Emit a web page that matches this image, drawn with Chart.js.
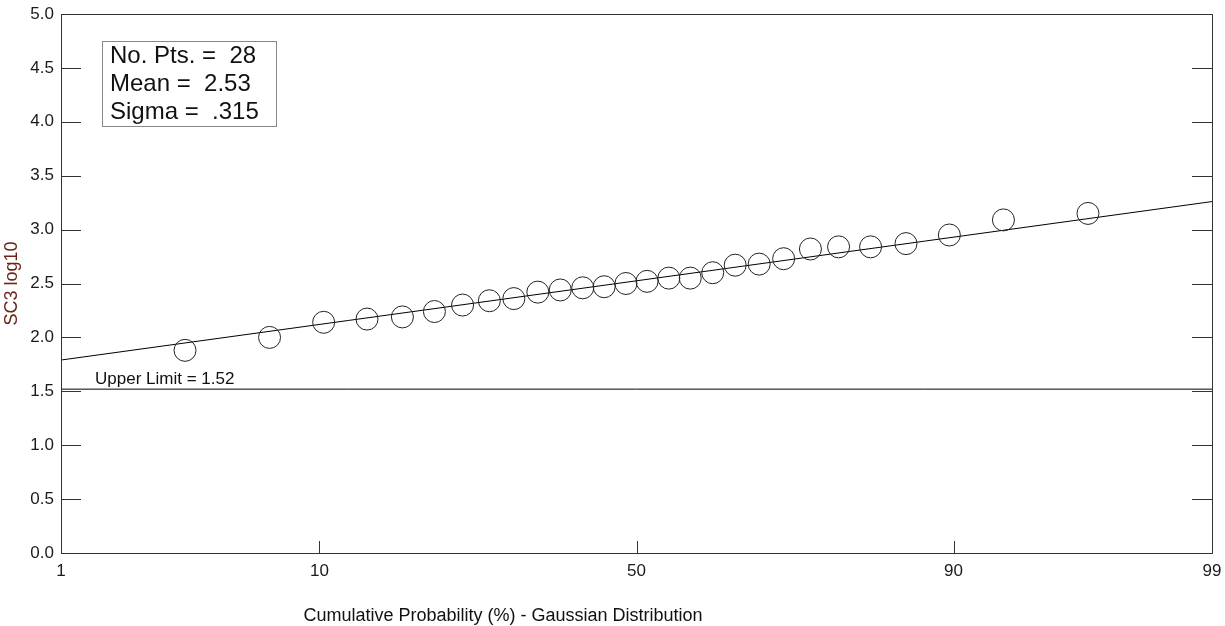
<!DOCTYPE html>
<html>
<head>
<meta charset="utf-8">
<title>SC3 log10 - Gaussian probability plot</title>
<script src="https://cdn.jsdelivr.net/npm/chart.js@4.4.1/dist/chart.umd.min.js"></script>
<style>
    html, body { margin: 0; padding: 0; background: #ffffff; }
    #wrap { width: 1225px; height: 626px; }
</style>
</head>
<body>
<div id="wrap"><canvas id="probChart" width="1225" height="626"></canvas></div>
<script>
// Probability plot data
const probPct = [3.4, 6.9, 10.3, 13.8, 17.2, 20.7, 24.1, 27.6, 31.0, 34.5, 37.9, 41.4, 44.8, 48.3,
                 51.7, 55.2, 58.6, 62.1, 65.5, 69.0, 72.4, 75.9, 79.3, 82.8, 86.2, 89.7, 93.1, 96.6];
const sc3Values = [1.88, 2.00, 2.14, 2.17, 2.19, 2.24, 2.30, 2.34, 2.36, 2.42, 2.44, 2.46, 2.47, 2.50,
                   2.52, 2.55, 2.55, 2.60, 2.67, 2.68, 2.73, 2.82, 2.84, 2.84, 2.87, 2.95, 3.09, 3.15];

// fitted line end points and the limit line
const fitPct = [1, 99];
const fitValues = [1.79, 3.26];
const limitPct = [1, 99];
const limitValues = [1.52, 1.52];

// axis ticks
const xTickPct = [1, 10, 50, 90, 99];
const xTickLabels = ['1', '10', '50', '90', '99'];

const statLines = ['No. Pts. =  28', 'Mean =  2.53', 'Sigma =  .315'];
const limitLabel = 'Upper Limit = 1.52';
const xTitle = 'Cumulative Probability (%) - Gaussian Distribution';
const yTitle = 'SC3 log10';

const FONT = "'Liberation Sans', Arial, sans-serif";

// inverse normal CDF (Acklam), used to put percents on the gaussian axis
function probit(p) {
    const a = [-3.969683028665376e+01, 2.209460984245205e+02, -2.759285104469687e+02,
               1.383577518672690e+02, -3.066479806614716e+01, 2.506628277459239e+00];
    const b = [-5.447609879822406e+01, 1.615858368580409e+02, -1.556989798598866e+02,
               6.680131188771972e+01, -1.328068155288572e+01];
    const c = [-7.784894002430293e-03, -3.223964580411365e-01, -2.400758277161838e+00,
               -2.549732539343734e+00, 4.374664141464968e+00, 2.938163982698783e+00];
    const d = [7.784695709041462e-03, 3.224671290700398e-01, 2.445134137142996e+00,
               3.754408661907416e+00];
    const pLow = 0.02425, pHigh = 1 - pLow;
    let q, r;
    if (p < pLow) {
        q = Math.sqrt(-2 * Math.log(p));
        return (((((c[0]*q+c[1])*q+c[2])*q+c[3])*q+c[4])*q+c[5]) /
               ((((d[0]*q+d[1])*q+d[2])*q+d[3])*q+1);
    }
    if (p <= pHigh) {
        q = p - 0.5;
        r = q * q;
        return (((((a[0]*r+a[1])*r+a[2])*r+a[3])*r+a[4])*r+a[5])*q /
               (((((b[0]*r+b[1])*r+b[2])*r+b[3])*r+b[4])*r+1);
    }
    q = Math.sqrt(-2 * Math.log(1 - p));
    return -(((((c[0]*q+c[1])*q+c[2])*q+c[3])*q+c[4])*q+c[5]) /
            ((((d[0]*q+d[1])*q+d[2])*q+d[3])*q+1);
}

const z = pct => probit(pct / 100);
const toPoints = (xs, ys) => xs.map((p, i) => ({ x: z(p), y: ys[i] }));

// frame, inside tick marks and the text boxes
const decorPlugin = {
    id: 'decor',
    afterDraw(chart) {
        const { ctx, chartArea: a, scales: { x, y } } = chart;
        ctx.save();
        ctx.strokeStyle = '#333333';
        ctx.lineWidth = 1;
        ctx.strokeRect(Math.round(a.left) + 0.5, Math.round(a.top) + 0.5,
                       Math.round(a.right - a.left), Math.round(a.bottom - a.top));

        ctx.beginPath();
        y.ticks.forEach(t => {
            const py = Math.round(y.getPixelForValue(t.value)) + 0.5;
            ctx.moveTo(a.left, py); ctx.lineTo(a.left + 20, py);
            ctx.moveTo(a.right - 20, py); ctx.lineTo(a.right, py);
        });
        x.ticks.forEach((t, i) => {
            if (i === 0 || i === x.ticks.length - 1) return;
            const px = Math.round(x.getPixelForValue(t.value)) + 0.5;
            ctx.moveTo(px, a.bottom); ctx.lineTo(px, a.bottom - 12);
        });
        ctx.stroke();

        // stats box
        ctx.strokeStyle = '#888888';
        ctx.strokeRect(a.left + 41.5, a.top + 27.5, 174, 85);
        ctx.fillStyle = '#111111';
        ctx.font = '24px ' + FONT;
        ctx.textBaseline = 'middle';
        ctx.textAlign = 'left';
        statLines.forEach((s, i) => ctx.fillText(s, a.left + 49, a.top + 42 + i * 28));

        // limit label
        ctx.font = '17px ' + FONT;
        ctx.textBaseline = 'bottom';
        ctx.fillText(limitLabel, a.left + 34, y.getPixelForValue(limitValues[0]) - 1);

        // x axis title
        ctx.font = '18px ' + FONT;
        ctx.textAlign = 'center';
        ctx.textBaseline = 'middle';
        ctx.fillText(xTitle, 503, 616);
        ctx.restore();
    }
};

const ctx = document.getElementById('probChart').getContext('2d');
new Chart(ctx, {
    type: 'scatter',
    data: {
        datasets: [
            {
                label: 'SC3 log10',
                data: toPoints(probPct, sc3Values),
                pointStyle: 'circle',
                pointRadius: 11,
                pointBorderWidth: 1,
                pointBorderColor: '#222222',
                pointBackgroundColor: 'rgba(0,0,0,0)',
                showLine: false,
                order: 1
            },
            {
                label: 'Fit',
                data: toPoints(fitPct, fitValues),
                showLine: true,
                borderColor: '#000000',
                borderWidth: 1,
                pointRadius: 0,
                order: 2
            },
            {
                label: 'Upper Limit',
                data: toPoints(limitPct, limitValues),
                showLine: true,
                borderColor: '#000000',
                borderWidth: 1,
                pointRadius: 0,
                order: 3
            }
        ]
    },
    options: {
        responsive: false,
        animation: false,
        devicePixelRatio: 1,
        layout: { padding: { left: 0, top: 14, right: 13, bottom: 0 } },
        plugins: {
            legend: { display: false },
            tooltip: { enabled: false }
        },
        scales: {
            x: {
                type: 'linear',
                min: z(xTickPct[0]),
                max: z(xTickPct[xTickPct.length - 1]),
                afterBuildTicks: scale => {
                    scale.ticks = xTickPct.map(p => ({ value: z(p) }));
                },
                afterFit: scale => {
                    scale.height = 73;
                    scale.paddingLeft = 0;
                    scale.paddingRight = 0;
                },
                grid: { display: false, drawTicks: false },
                border: { display: false },
                ticks: {
                    autoSkip: false,
                    maxRotation: 0,
                    padding: 8,
                    color: '#1a1a1a',
                    font: { family: FONT, size: 17 },
                    callback: (value, index) => xTickLabels[index]
                }
            },
            y: {
                type: 'linear',
                min: 0,
                max: 5,
                afterFit: scale => {
                    scale.width = 61;
                    scale.paddingTop = 0;
                    scale.paddingBottom = 0;
                },
                grid: { display: false, drawTicks: false },
                border: { display: false },
                title: {
                    display: true,
                    text: yTitle,
                    color: '#6b2418',
                    padding: { top: 1, bottom: 0 },
                    font: { family: FONT, size: 18 }
                },
                ticks: {
                    stepSize: 0.5,
                    padding: 7,
                    color: '#1a1a1a',
                    font: { family: FONT, size: 17 },
                    callback: value => value.toFixed(1)
                }
            }
        }
    },
    plugins: [decorPlugin]
});
</script>
</body>
</html>
